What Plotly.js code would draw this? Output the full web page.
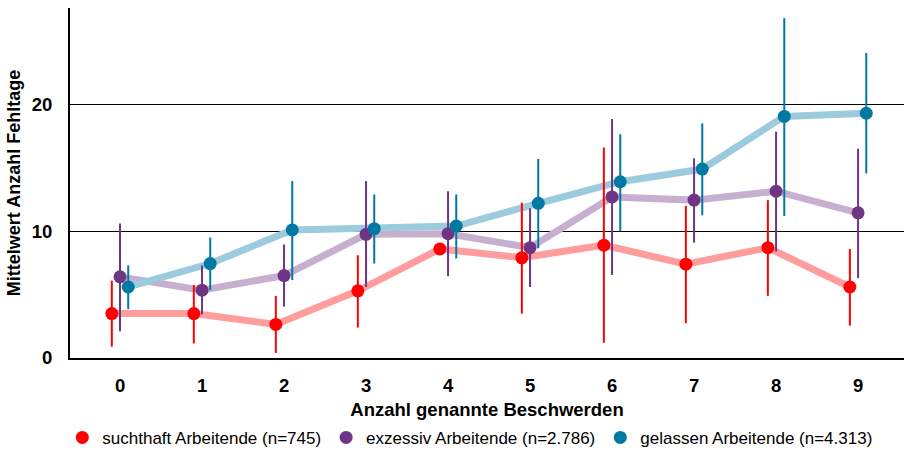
<!DOCTYPE html>
<html><head><meta charset="utf-8">
<script src="https://cdn.plot.ly/plotly-3.0.1.min.js"></script>
<style>html,body{margin:0;padding:0;background:#fff}#chart{width:904px;height:451px}</style>
</head><body><div id="chart"></div>
<script>
const categories = [0,1,2,3,4,5,6,7,8,9];
const seriesNames = ["suchthaft Arbeitende (n=745)", "exzessiv Arbeitende (n=2.786)", "gelassen Arbeitende (n=4.313)"];
const suchthaftMean  = [3.5, 3.5, 2.65, 5.3, 8.6, 7.9, 8.9, 7.4, 8.7, 5.6];
const suchthaftUpper = [6.1, 5.75, 4.9, 8.1, 8.6, 12.25, 16.6, 12.0, 12.45, 8.6];
const suchthaftLower = [0.9, 1.15, 0.4, 2.4, 8.6, 3.5, 1.2, 2.75, 4.9, 2.55];
const exzessivMean  = [6.4, 5.35, 6.5, 9.75, 9.8, 8.7, 12.7, 12.45, 13.15, 11.45];
const exzessivUpper = [10.6, 7.3, 8.95, 13.95, 13.15, 11.8, 18.85, 15.75, 17.85, 16.5];
const exzessivLower = [2.1, 3.45, 4.05, 5.6, 6.45, 5.6, 6.55, 9.1, 8.4, 6.3];
const gelassenMean  = [5.6, 7.45, 10.1, 10.2, 10.4, 12.2, 13.9, 14.9, 19.05, 19.3];
const gelassenUpper = [7.3, 9.5, 13.95, 12.9, 12.9, 15.7, 17.65, 18.5, 26.8, 24.05];
const gelassenLower = [3.85, 5.35, 6.15, 7.45, 7.85, 8.65, 10.0, 11.25, 11.2, 14.55];
const tickLabels = ["0","1","2","3","4","5","6","7","8","9"];
const yTickValues = [0, 10, 20];
const yTickLabels = ["0", "10", "20"];

const series = [
  {name: seriesNames[0], mean: suchthaftMean, up: suchthaftUpper, lo: suchthaftLower, off: -0.1, mc: "#ff0000", lc: "#ff9c9c"},
  {name: seriesNames[1], mean: exzessivMean, up: exzessivUpper, lo: exzessivLower, off: 0, mc: "#6e3585", lc: "#c7b0cf"},
  {name: seriesNames[2], mean: gelassenMean, up: gelassenUpper, lo: gelassenLower, off: 0.1, mc: "#0079a3", lc: "#9bcbdc"}
];
const font = "'Liberation Sans', Arial, sans-serif";
const traces = [];
series.forEach(s => {
  traces.push({
    x: categories.map(c => c + s.off), y: s.mean, mode: "lines", showlegend: false,
    line: {color: s.lc, width: 7}, hoverinfo: "skip"
  });
});
series.forEach(s => {
  traces.push({
    x: categories.map(c => c + s.off), y: s.mean, mode: "markers", name: s.name,
    marker: {color: s.mc, size: 13},
    error_y: {type: "data", symmetric: false,
      array: s.up.map((u, i) => u - s.mean[i]),
      arrayminus: s.mean.map((m, i) => m - s.lo[i]),
      color: s.mc, thickness: 2, width: 0}
  });
});
const layout = {
  width: 904, height: 451,
  margin: {l: 70, r: 0, t: 8, b: 93, autoexpand: false},
  paper_bgcolor: "#fff", plot_bgcolor: "#fff",
  font: {family: font, color: "#000"},
  xaxis: {
    range: [-0.61, 9.56], tickvals: categories, ticktext: tickLabels,
    showgrid: false, zeroline: false, showline: true, linecolor: "#000", linewidth: 2,
    ticks: "", ticklabelstandoff: 10, tickfont: {size: 18.5, family: font, weight: "bold"},
    title: {text: "<b>Anzahl genannte Beschwerden</b>", font: {size: 18.5, family: font}, standoff: 8}
  },
  yaxis: {
    range: [0, 27.6], tickvals: yTickValues, ticktext: yTickLabels,
    showgrid: true, gridcolor: "#000", gridwidth: 1, zeroline: false,
    showline: true, linecolor: "#000", linewidth: 2, ticks: "",
    ticklabelstandoff: 12, tickfont: {size: 18.5, family: font, weight: "bold"},
    title: {text: "<b>Mittelwert Anzahl Fehltage</b>", font: {size: 18, family: font}, standoff: 6}
  },
  legend: {orientation: "h", x: 0.48, xanchor: "center", xref: "paper",
    y: 0.029, yanchor: "middle", yref: "container",
    font: {size: 17, family: font}, itemwidth: 20, tracegroupgap: 0},
  showlegend: true
};
Plotly.newPlot("chart", traces, layout, {displayModeBar: false});
</script></body></html>
